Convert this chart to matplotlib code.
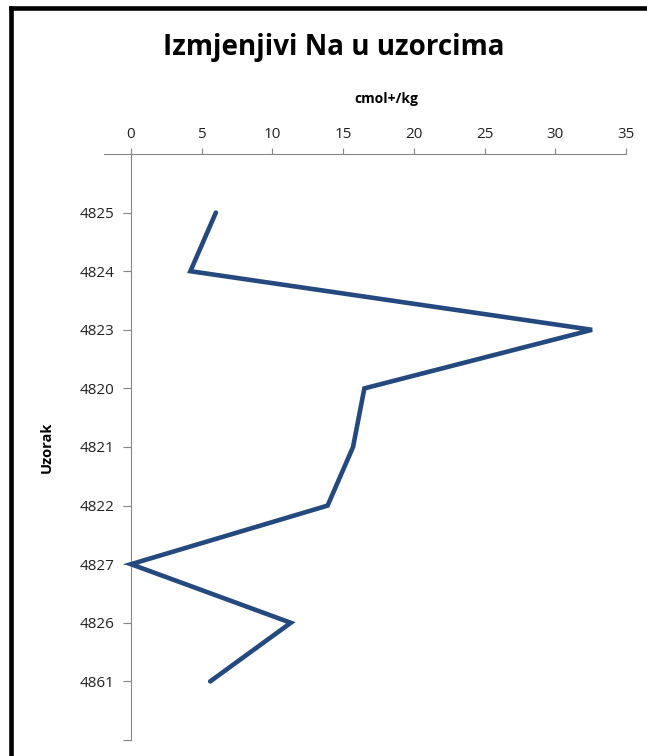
import matplotlib.pyplot as plt
from matplotlib.lines import Line2D

samples = ['4825', '4824', '4823', '4820', '4821', '4822', '4827', '4826', '4861']
na_values = [6.0, 4.2, 32.6, 16.5, 15.7, 13.9, 0.0, 11.3, 5.6]
x_ticks = [0, 5, 10, 15, 20, 25, 30, 35]

plt.rcParams['font.family'] = ['Open Sans', 'DejaVu Sans']

fig = plt.figure(figsize=(6.47, 7.56), dpi=100)
# axes starts at the category axis (x = 0)
ax = fig.add_axes([131 / 647, 16 / 756, 495 / 647, 586 / 756])

pos = list(range(1, len(samples) + 1))
ax.plot(na_values, pos, color='#24497f', lw=3.3, solid_capstyle='round',
        solid_joinstyle='miter', clip_on=False, zorder=3)

ax.set_xlim(0, 35)
ax.set_ylim(10, 0)

# value axis on top
ax.xaxis.tick_top()
ax.set_xticks(x_ticks)
ax.tick_params(axis='x', length=4, color='#868686', labelsize=11, pad=5, labelcolor='#222222')
ax.xaxis.set_label_position('top')
ax.set_xlabel('cmol+/kg', fontsize=10, fontweight='bold')
ax.xaxis.set_label_coords((386 - 131) / 495, (740 - 103) / 586)

for s in ['right', 'bottom']:
    ax.spines[s].set_visible(False)
ax.spines['top'].set_color('#868686')
ax.spines['left'].set_color('#868686')
# top axis line continues left of 0
ax.add_artist(Line2D([-27 / 495, 0], [1, 1], color='#868686', lw=0.8,
                     transform=ax.transAxes, clip_on=False))

ax.set_yticks(pos + [10])
ax.set_yticklabels(samples + [''])
ax.tick_params(axis='y', length=6, color='#868686', labelsize=11, pad=6, labelcolor='#222222')
ax.set_ylabel('Uzorak', fontsize=10.5, fontweight='bold')
ax.yaxis.set_label_coords((54 - 131) / 495, 1 - (447 - 154) / 586)

fig.text(334 / 647, 1 - 47 / 756, 'Izmjenjivi Na u uzorcima', ha='center', va='center',
         fontsize=20, fontweight='bold')

# outer frame
fig.add_artist(Line2D([11 / 647, 11 / 647], [0, 1 - 8 / 756], color='black', lw=3.3, transform=fig.transFigure))
fig.add_artist(Line2D([11 / 647, 1], [1 - 8 / 756, 1 - 8 / 756], color='black', lw=3.3, transform=fig.transFigure))

fig.savefig('out.png', dpi=100)
